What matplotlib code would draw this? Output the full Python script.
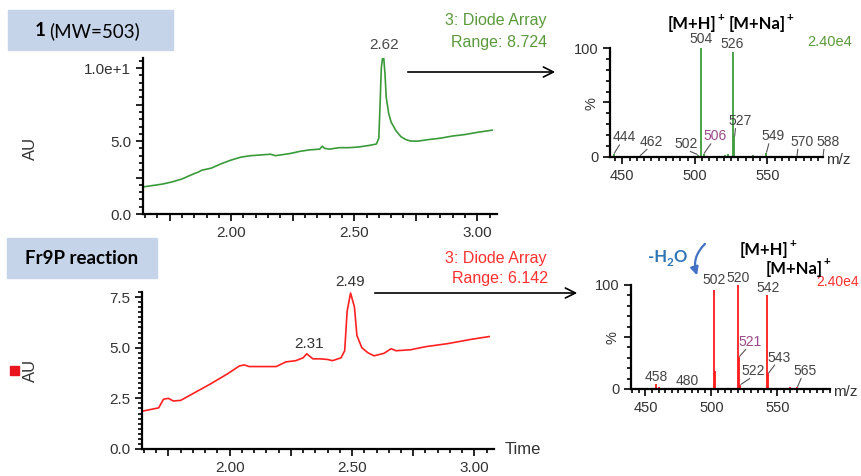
import matplotlib
matplotlib.use('Agg')
import matplotlib.pyplot as plt
from matplotlib.ticker import MultipleLocator
from matplotlib.patches import Rectangle, FancyArrowPatch

W, H = 862, 476

# chromatogram of compound 1 (time in min, AU)
time1 = [1.64, 1.68, 1.72, 1.76, 1.80, 1.84, 1.87, 1.88, 1.92, 1.96, 2.00, 2.04, 2.08,
         2.12, 2.16, 2.18, 2.20, 2.24, 2.28, 2.32, 2.36, 2.37, 2.38, 2.40, 2.44, 2.48,
         2.52, 2.56, 2.59, 2.60, 2.605, 2.61, 2.615, 2.62, 2.625, 2.63, 2.64, 2.65, 2.67,
         2.69, 2.71, 2.73, 2.76, 2.80, 2.85, 2.90, 2.95, 3.00, 3.06]
au1 = [1.85, 1.95, 2.05, 2.2, 2.4, 2.7, 2.9, 3.0, 3.15, 3.45, 3.7, 3.9, 4.0,
       4.05, 4.1, 4.0, 4.05, 4.15, 4.3, 4.4, 4.45, 4.65, 4.5, 4.45, 4.55, 4.55,
       4.6, 4.7, 4.8, 5.2, 7.5, 10.0, 10.7, 10.7, 9.6, 8.0, 6.9, 6.3, 5.7,
       5.3, 5.1, 5.0, 5.0, 5.1, 5.2, 5.35, 5.45, 5.6, 5.75]

# chromatogram of Fr9P reaction
time2 = [1.64, 1.71, 1.73, 1.75, 1.77, 1.80, 1.86, 1.92, 1.99, 2.04, 2.06, 2.08, 2.19,
         2.23, 2.27, 2.30, 2.315, 2.34, 2.37, 2.40, 2.42, 2.455, 2.47, 2.48, 2.494,
         2.51, 2.52, 2.54, 2.565, 2.59, 2.63, 2.66, 2.68, 2.74, 2.80, 2.89, 2.99, 3.06]
au2 = [1.86, 2.03, 2.46, 2.5, 2.37, 2.4, 2.8, 3.2, 3.7, 4.1, 4.15, 4.07, 4.07,
       4.3, 4.36, 4.5, 4.7, 4.45, 4.45, 4.42, 4.36, 4.5, 4.85, 6.8, 7.7,
       7.0, 5.6, 5.0, 4.75, 4.6, 4.72, 4.95, 4.85, 4.9, 5.05, 5.2, 5.42, 5.55]

# mass spectrum under the 2.62 peak (m/z, %)
ms1_mz = [444, 462, 481, 490, 502, 504, 506, 521, 523, 526, 527, 540, 549, 562, 570, 588]
ms1_int = [3, 1, 1, 1, 2, 100, 3, 2, 3, 96, 19, 2, 4, 1, 1, 1]
ms1_lab = [444, 462, 502, 504, 506, 526, 527, 549, 570, 588]

# mass spectrum under the 2.49 peak
ms2_mz = [446, 458, 460, 480, 490, 500, 502, 503, 518, 520, 521, 522, 538, 540, 542, 543, 560, 565, 578]
ms2_int = [1, 5, 2, 1, 1, 1, 95, 17, 1, 100, 31, 4, 1, 1, 90, 15, 2, 2, 1]
ms2_lab = [458, 480, 502, 520, 521, 522, 542, 543, 565]

plt.rcParams['font.family'] = ['Liberation Sans', 'DejaVu Sans']

fig = plt.figure(figsize=(W / 100, H / 100), dpi=100)


def rect(x0, y0, x1, y1):
    return [x0 / W, 1 - y1 / H, (x1 - x0) / W, (y1 - y0) / H]


def style(ax, size):
    for s in ['top', 'right']:
        ax.spines[s].set_visible(False)
    for s in ['left', 'bottom']:
        ax.spines[s].set_linewidth(1.6)
    ax.tick_params(which='both', direction='out', width=1.2, labelcolor='#333333', labelsize=size)
    ax.tick_params(which='major', length=5)
    ax.tick_params(which='minor', length=3)
    ax.patch.set_alpha(0)


# --- chromatograms
ax1 = fig.add_axes(rect(143, 58, 497, 214))
ax1.plot(time1, au1, color='#3a9a3a', lw=1.2)
ax1.set_xlim(1.642, 3.08)
ax1.set_ylim(0, 10.7)
ax1.set_yticks([0, 2.5, 5, 7.5, 10])
ax1.set_yticklabels(['0.0', '', '5.0', '', '1.0e+1'])
ax1.yaxis.set_minor_locator(MultipleLocator(0.5))
ax1.annotate('2.62', (2.62, 10.7), xytext=(0, 4), textcoords='offset points',
             ha='center', va='bottom', fontsize=11, color='#4a4a4a', annotation_clip=False)

ax2 = fig.add_axes(rect(142, 292, 494, 449))
ax2.plot(time2, au2, color='#ff2020', lw=1.2)
ax2.set_xlim(1.642, 3.08)
ax2.set_ylim(0, 7.75)
ax2.set_yticks([0, 2.5, 5, 7.5])
ax2.set_yticklabels(['0.0', '2.5', '5.0', '7.5'])
ax2.yaxis.set_minor_locator(MultipleLocator(0.25))
ax2.annotate('2.49', (2.494, 7.7), xytext=(0, 3), textcoords='offset points',
             ha='center', va='bottom', fontsize=11, color='#333333', annotation_clip=False)
ax2.annotate('2.31', (2.315, 4.7), xytext=(2, 2), textcoords='offset points',
             ha='center', va='bottom', fontsize=11, color='#333333', annotation_clip=False)

for ax in [ax1, ax2]:
    style(ax, 11)
    ax.set_xticks([1.75, 2.0, 2.25, 2.5, 2.75, 3.0])
    ax.set_xticklabels(['', '2.00', '', '2.50', '', '3.00'])
    ax.xaxis.set_minor_locator(MultipleLocator(0.05))

# --- mass spectra
ax3 = fig.add_axes(rect(610, 48, 823, 157))
ax3.vlines(ms1_mz, 0, ms1_int, color='#3c9c3c', lw=1.3)
ax3.set_xlim(441.5, 588.4)

ax4 = fig.add_axes(rect(631, 285, 830, 389))
ax4.vlines(ms2_mz, 0, ms2_int, color='#ff1a1a', lw=1.3)
ax4.set_xlim(439, 590)

for ax in [ax3, ax4]:
    style(ax, 10.5)
    ax.set_ylim(0, 100)
    ax.set_yticks([0, 50, 100])
    ax.set_yticklabels(['0', '%', '100'])
    ax.get_yticklabels()[1].set_rotation(90)
    ax.yaxis.set_minor_locator(MultipleLocator(10))
    ax.set_xticks([450, 500, 550])
    ax.xaxis.set_minor_locator(MultipleLocator(5))


def peak_labels(ax, mzs, ints, labels, offsets, purple):
    for mz in labels:
        h = ints[mzs.index(mz)]
        dx, ty, lead = offsets[mz]
        c = '#9a4a8a' if mz in purple else '#444444'
        ax.text(mz + dx, ty, str(mz), ha='center', va='center', fontsize=10, color=c, clip_on=False)
        if lead:
            sx = 1 if dx > 0 else -1
            ax.plot([mz + sx * 0.5, mz + dx - sx * 3], [h + 0.5, ty - 7], color='#555555', lw=0.8, clip_on=False)


# offsets: (dx in m/z, text y in %, leader line)
off1 = {444: (7, 18, True), 462: (8, 14, True), 502: (-8, 12, True), 504: (0, 108, False),
        506: (8, 19, True), 526: (0, 104, False), 527: (4, 33, True), 549: (5, 19, True),
        570: (4, 14, True), 588: (4, 14, True)}
off2 = {458: (0, 12, False), 480: (2, 8, False), 502: (0, 105, False), 520: (0, 107, False),
        542: (1, 97, False), 521: (8, 45, True), 522: (10, 17, True), 543: (8, 30, True),
        565: (6, 17, True)}
peak_labels(ax3, ms1_mz, ms1_int, ms1_lab, off1, [506])
peak_labels(ax4, ms2_mz, ms2_int, ms2_lab, off2, [521])

# --- overlay for labels and arrows, in pixel coordinates
ov = fig.add_axes([0, 0, 1, 1], zorder=10)
ov.set_xlim(0, W)
ov.set_ylim(H, 0)
ov.axis('off')

ov.add_patch(Rectangle((8, 10), 165, 40, color='#c5d4e9'))
ov.text(35, 31, '1', fontsize=13.5, fontweight='bold', family='Lato', va='center')
ov.text(49, 31, '(MW=503)', fontsize=13.5, family='Lato', va='center')
ov.add_patch(Rectangle((7, 238), 150, 40, color='#c5d4e9'))
ov.text(82, 258, 'Fr9P reaction', fontsize=13.5, fontweight='bold', family='Lato', ha='center', va='center')

ov.text(30, 148, 'AU', fontsize=12, rotation=90, ha='center', va='center', color='#333333')
ov.text(30, 370, 'AU', fontsize=12, rotation=90, ha='center', va='center', color='#333333')
ov.add_patch(Rectangle((10, 366), 9, 9, color='#e8141e'))
ov.text(505, 450, 'Time', fontsize=12, va='center', color='#333333')
ov.text(826, 160, 'm/z', fontsize=11, va='center', color='#333333')
ov.text(833, 392, 'm/z', fontsize=11, va='center', color='#333333')

ov.text(547, 21, '3: Diode Array', fontsize=11.5, ha='right', va='center', color='#5a9a3c')
ov.text(547, 42, 'Range: 8.724', fontsize=11.5, ha='right', va='center', color='#5a9a3c')
ov.text(547, 259, '3: Diode Array', fontsize=11.5, ha='right', va='center', color='#ff3030')
ov.text(548, 279, 'Range: 6.142', fontsize=11.5, ha='right', va='center', color='#ff3030')
ov.text(852, 42, '2.40e4', fontsize=10.5, ha='right', va='center', color='#5a9a3c')
ov.text(859, 282, '2.40e4', fontsize=10, ha='right', va='center', color='#ff3030')

ov.annotate('', xy=(558, 72), xytext=(405, 72),
            arrowprops=dict(arrowstyle='->', lw=1.2, color='black', mutation_scale=18))
ov.annotate('', xy=(580, 293), xytext=(372, 293),
            arrowprops=dict(arrowstyle='->', lw=1.2, color='black', mutation_scale=18))

# ion labels: bracket text plus a small superscript "+"
ions = [(668, 24, '[M+H]'), (729, 24, '[M+Na]'), (740, 250, '[M+H]'), (766, 269, '[M+Na]')]
for x, y, s in ions:
    t = ov.text(x, y, s, fontsize=12, fontweight='bold', family='Lato', va='center')
    fig.canvas.draw()
    bb = t.get_window_extent()
    xr = bb.x1 * W / fig.bbox.width
    ov.text(xr + 0.5, y - 7, '+', fontsize=8.5, fontweight='bold', family='Lato', va='center')

ov.text(648, 257, '-H', fontsize=12, fontweight='bold', family='Lato', va='center', color='#2e75b6')
ov.text(667, 262, '2', fontsize=8.5, fontweight='bold', family='Lato', va='center', color='#2e75b6')
ov.text(673, 257, 'O', fontsize=12, fontweight='bold', family='Lato', va='center', color='#2e75b6')
ov.add_patch(FancyArrowPatch((707, 242), (698, 278), connectionstyle='arc3,rad=0.35',
                             arrowstyle='-|>', mutation_scale=12, color='#4472c4', lw=1.6))

fig.savefig('out.png', dpi=100)
